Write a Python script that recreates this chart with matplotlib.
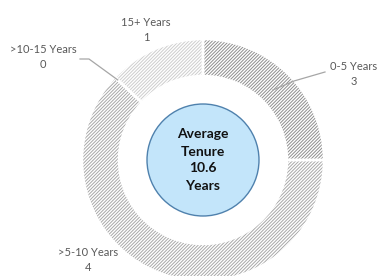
import numpy as np
import matplotlib.pyplot as plt
from matplotlib.patches import Circle

plt.rcParams['font.family'] = ['Lato', 'DejaVu Sans']
plt.rcParams['hatch.linewidth'] = 0.7

# data
labels = ['0-5 Years', '>5-10 Years', '>10-15 Years', '15+ Years']
counts = [3, 4, 0, 1]
shares = [25.0, 62.0, 0.0, 13.0]   # ring share as drawn in the picture
avg_tenure = 10.6

hatch_colors = ['#8e8e8e', '#a8a8a8', '#c4c4c4', '#cdcdcd']

W, H = 377, 276
cx, cy = 203, H - 160
r_out, ring_w = 121, 37

fig = plt.figure(figsize=(W / 100, H / 100), dpi=100)
ax = fig.add_axes([0, 0, 1, 1])

# hatched ring
wedges, _ = ax.pie(shares, startangle=90, counterclock=False, radius=r_out,
                   center=(cx, cy), wedgeprops=dict(width=ring_w, linewidth=0))
for w, c in zip(wedges, hatch_colors):
    w.set_facecolor('white')
    w.set_edgecolor(c)
    w.set_hatch('//////////')

# white separators between slices
ax.pie(shares, startangle=90, counterclock=False, radius=r_out, center=(cx, cy),
       wedgeprops=dict(width=ring_w, facecolor='none', edgecolor='white', linewidth=1.8))

# centre bubble
ax.add_patch(Circle((cx, cy), 56, facecolor='#c3e5fa', edgecolor='#4f81ad',
                    linewidth=1.0, zorder=5))
ax.text(cx, cy, f'Average\nTenure\n{avg_tenure}\nYears', ha='center', va='center',
        fontsize=10, fontweight='bold', color='#111111', linespacing=1.5, zorder=6)

# data labels (y given top-down in pixels)
label_pos = [(354, 74), (88, 260), (43, 57), (146, 30)]
for lab, n, (x, y) in zip(labels, counts, label_pos):
    ax.text(x, H - y, f'{lab}\n{n}', ha='center', va='center', fontsize=8,
            color='#595959', linespacing=1.35)

def anchor(i, r):
    w = wedges[i]
    t = np.deg2rad((w.theta1 + w.theta2) / 2)
    return cx + r * np.cos(t), cy + r * np.sin(t)

ax0 = anchor(0, r_out - 22)
ax.plot([325, 294, ax0[0]], [H - 72, H - 81, ax0[1]], color='#a6a6a6', lw=0.9, zorder=4)
ax2 = anchor(2, r_out - 4)
ax.plot([80, 89, ax2[0]], [H - 59, H - 59, ax2[1]], color='#a6a6a6', lw=0.9, zorder=4)

ax.set_xlim(0, W)
ax.set_ylim(0, H)
ax.axis('off')

fig.savefig('out.png', dpi=100)
